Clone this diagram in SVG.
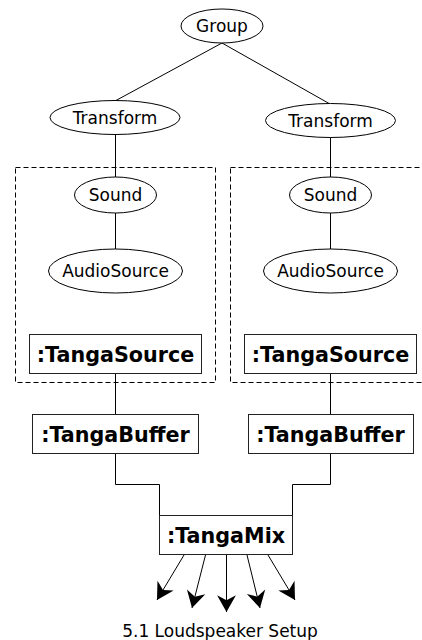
<svg xmlns="http://www.w3.org/2000/svg" width="422" height="640" viewBox="0 0 422 640">
<style>
.e{fill:#fff;stroke:#000;stroke-width:1}
.b{fill:#fff;stroke:#222;stroke-width:1}
.c{fill:none;stroke:#000;stroke-width:1}
.d{fill:none;stroke:#000;stroke-width:1;stroke-dasharray:5 3}
.t{font-family:"DejaVu Sans",sans-serif;font-size:17px;text-anchor:middle;fill:#000}
.bt{font-family:"DejaVu Sans",sans-serif;font-size:20.7px;font-weight:bold;text-anchor:middle;fill:#000}
</style>
<defs>
<marker id="ah" markerUnits="userSpaceOnUse" markerWidth="20" markerHeight="20" viewBox="-16 -9 17 18" refX="0" refY="0" orient="auto">
<path d="M0,0 L-15,-8.5 L-10.5,0 L-15,8.5 Z" fill="#000"/>
</marker>
</defs>
<g id="containers">
<rect class="d" x="15.5" y="167.5" width="200" height="215"/>
<rect class="d" x="230.5" y="167.5" width="200" height="215"/>
</g>
<g id="connectors">
<line class="c" x1="222" y1="43" x2="115" y2="101"/>
<line class="c" x1="222" y1="43" x2="330" y2="104"/>
<line class="c" x1="115.5" y1="134" x2="115.5" y2="177"/>
<line class="c" x1="330.5" y1="137" x2="330.5" y2="177"/>
<line class="c" x1="115.5" y1="213" x2="115.5" y2="249"/>
<line class="c" x1="330.5" y1="213" x2="330.5" y2="249"/>
<line class="c" x1="115.5" y1="373" x2="115.5" y2="414"/>
<line class="c" x1="330.5" y1="373" x2="330.5" y2="414"/>
<polyline class="c" points="115.5,454 115.5,484.5 159.5,484.5 159.5,515"/>
<polyline class="c" points="330.5,454 330.5,484.5 292.5,484.5 292.5,515"/>
<line class="c" x1="184" y1="555" x2="157" y2="600" marker-end="url(#ah)"/>
<line class="c" x1="205.5" y1="555" x2="192" y2="608" marker-end="url(#ah)"/>
<line class="c" x1="226.5" y1="555" x2="226.5" y2="612" marker-end="url(#ah)"/>
<line class="c" x1="247" y1="555" x2="260" y2="608" marker-end="url(#ah)"/>
<line class="c" x1="268" y1="555" x2="295" y2="600" marker-end="url(#ah)"/>
</g>
<g id="group"><ellipse class="e" cx="222" cy="26" rx="41" ry="17"/><text class="t" x="222" y="32">Group</text></g>
<g id="transform1"><ellipse class="e" cx="115" cy="117.5" rx="65" ry="17"/><text class="t" x="115" y="123.5">Transform</text></g>
<g id="transform2"><ellipse class="e" cx="330.5" cy="120.5" rx="65" ry="17"/><text class="t" x="330.5" y="126.5">Transform</text></g>
<g id="sound1"><ellipse class="e" cx="115.5" cy="195" rx="41" ry="18"/><text class="t" x="115.5" y="201">Sound</text></g>
<g id="sound2"><ellipse class="e" cx="330.5" cy="195" rx="41" ry="18"/><text class="t" x="330.5" y="201">Sound</text></g>
<g id="audiosource1"><ellipse class="e" cx="115.5" cy="271" rx="67" ry="22"/><text class="t" x="115.5" y="277">AudioSource</text></g>
<g id="audiosource2"><ellipse class="e" cx="330.5" cy="271" rx="67" ry="22"/><text class="t" x="330.5" y="277">AudioSource</text></g>
<g id="tangasource1"><rect class="b" x="29.5" y="334.5" width="172" height="39"/><text class="bt" x="115.5" y="362">:TangaSource</text></g>
<g id="tangasource2"><rect class="b" x="244.5" y="334.5" width="172" height="39"/><text class="bt" x="330.5" y="362">:TangaSource</text></g>
<g id="tangabuffer1"><rect class="b" x="32.5" y="414.5" width="166" height="39"/><text class="bt" x="115.5" y="442">:TangaBuffer</text></g>
<g id="tangabuffer2"><rect class="b" x="248.5" y="414.5" width="165" height="39"/><text class="bt" x="330.5" y="442">:TangaBuffer</text></g>
<g id="tangamix"><rect class="b" x="159.5" y="515.5" width="133" height="39"/><text class="bt" x="226" y="543">:TangaMix</text></g>
<text class="t" x="220" y="637">5.1 Loudspeaker Setup</text>
</svg>
